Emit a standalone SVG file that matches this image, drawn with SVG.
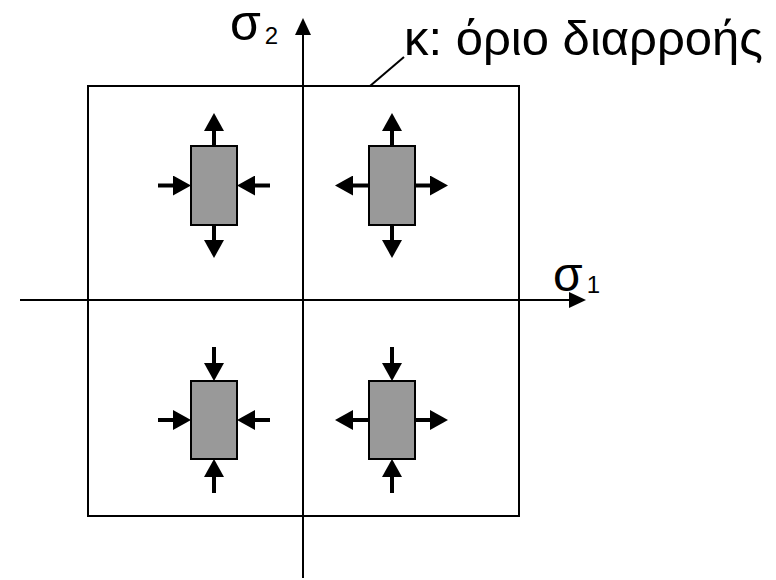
<svg xmlns="http://www.w3.org/2000/svg" width="776" height="580" viewBox="0 0 776 580">
  <style>
    .ax { stroke: #000; stroke-width: 2; fill: none; }
    .el { fill: #999999; stroke: #000; stroke-width: 2; }
    .f { stroke: #000; stroke-width: 4; fill: none; marker-end: url(#force); }
    .lbl { font-family: "Liberation Sans", Arial, sans-serif; fill: #000; }
  </style>
  <defs>
    <!-- force arrowhead: starts at the shaft end and points forward -->
    <marker id="force" markerUnits="userSpaceOnUse" markerWidth="18" markerHeight="20" refX="0" refY="10" orient="auto" viewBox="0 0 18 20">
      <path d="M0,0 L18,10 L0,20 z" fill="#000"/>
    </marker>
    <!-- axis arrowhead -->
    <marker id="axis" markerUnits="userSpaceOnUse" markerWidth="17" markerHeight="16" refX="0" refY="8" orient="auto" viewBox="0 0 17 16">
      <path d="M0,0 L17,8 L0,16 z" fill="#000"/>
    </marker>
  </defs>

  <!-- yield boundary -->
  <g id="yield-boundary">
    <rect class="ax" x="88" y="86" width="431" height="430"/>
    <line class="ax" x1="370" y1="86" x2="404" y2="57"/>
    <text class="lbl" x="404" y="55" font-size="49">κ: όριο διαρροής</text>
  </g>

  <!-- stress axes -->
  <g id="axes">
    <line class="ax" x1="303" y1="578" x2="303" y2="35" marker-end="url(#axis)"/>
    <line class="ax" x1="20" y1="300" x2="569" y2="300" marker-end="url(#axis)"/>
    <text class="lbl" x="230" y="40" font-size="50">σ<tspan font-size="24" dx="4" dy="4">2</tspan></text>
    <text class="lbl" x="553" y="291" font-size="48">σ<tspan font-size="24" dx="4" dy="2">1</tspan></text>
  </g>

  <!-- quadrant I: tension / compression -->
  <g id="element-tl">
    <rect class="el" x="191" y="146" width="46" height="79"/>
    <line class="f" x1="214" y1="146" x2="214" y2="131"/>
    <line class="f" x1="214" y1="225" x2="214" y2="240"/>
    <line class="f" x1="158" y1="185.5" x2="173" y2="185.5"/>
    <line class="f" x1="270" y1="185.5" x2="255" y2="185.5"/>
  </g>

  <!-- biaxial tension -->
  <g id="element-tr">
    <rect class="el" x="369" y="146" width="46" height="79"/>
    <line class="f" x1="392" y1="146" x2="392" y2="131"/>
    <line class="f" x1="392" y1="225" x2="392" y2="240"/>
    <line class="f" x1="369" y1="185.5" x2="353" y2="185.5"/>
    <line class="f" x1="415" y1="185.5" x2="430" y2="185.5"/>
  </g>

  <!-- biaxial compression -->
  <g id="element-bl">
    <rect class="el" x="191" y="381" width="46" height="78"/>
    <line class="f" x1="214" y1="347" x2="214" y2="363"/>
    <line class="f" x1="214" y1="493" x2="214" y2="477"/>
    <line class="f" x1="158" y1="420" x2="173" y2="420"/>
    <line class="f" x1="270" y1="420" x2="255" y2="420"/>
  </g>

  <!-- compression / tension -->
  <g id="element-br">
    <rect class="el" x="369" y="381" width="46" height="78"/>
    <line class="f" x1="392" y1="347" x2="392" y2="363"/>
    <line class="f" x1="392" y1="493" x2="392" y2="477"/>
    <line class="f" x1="369" y1="420" x2="353" y2="420"/>
    <line class="f" x1="415" y1="420" x2="430" y2="420"/>
  </g>
</svg>
